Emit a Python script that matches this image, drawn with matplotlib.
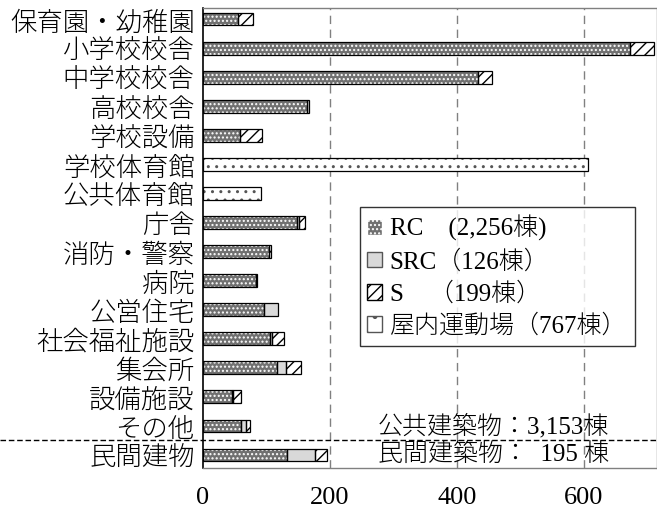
import matplotlib
matplotlib.use("Agg")
import matplotlib.pyplot as plt
import matplotlib.transforms as mtransforms
from matplotlib.lines import Line2D
from matplotlib.patches import Patch
import numpy as np

plt.rcParams['font.family'] = ['Liberation Serif', 'Noto Sans CJK JP']
plt.rcParams['hatch.linewidth'] = 1.0

categories = ['保育園・幼稚園', '小学校校舎', '中学校校舎', '高校校舎', '学校設備',
              '学校体育館', '公共体育館', '庁舎', '消防・警察', '病院', '公営住宅',
              '社会福祉施設', '集会所', '設備施設', 'その他', '民間建物']
rc     = [55, 672, 433, 164, 59,   0,  0, 148, 104, 84, 96, 106, 117, 46, 60, 132]
src    = [ 0,   0,   0,   3,  0,   0,  0,   3,   0,  1, 22,   3,  13,  1,  8,  45]
steel  = [23,  38,  22,   0, 34,   0,  0,   9,   3,  0,  0,  19,  25, 13,  6,  18]
indoor = [ 0,   0,   0,   0,  0, 607, 91,   0,   0,  0,  0,   0,   0,  0,  0,   0]

legend_labels = ['RC\u3000(2,256棟)', 'SRC（126棟）', 'S\u3000（199棟）', '屋内運動場（767棟）']
public_total = '公共建築物：3,153棟'
private_total = '民間建築物：  195 棟'
xticks = [0, 200, 400, 600]

fig = plt.figure(figsize=(6.57, 5.13), dpi=100)
ax = fig.add_axes([0.309, 0.088, 0.691, 0.896])

y = np.arange(len(categories))
h = 0.43
rc = np.array(rc); src = np.array(src); steel = np.array(steel); indoor = np.array(indoor)

# filled segments (hatch colour follows edgecolor)
ax.barh(y, rc, h, color='#707070', edgecolor='white', hatch='....', linewidth=0)
ax.barh(y, src, h, left=rc, color='#d9d9d9', edgecolor='#d9d9d9', linewidth=0)
ax.barh(y, steel, h, left=rc + src, color='white', edgecolor='black', hatch='///', linewidth=0)
ax.barh(y, indoor, h, color='white', edgecolor='#555555', hatch='..', linewidth=0)

# outlines
for vals, left in [(rc, 0), (src, rc), (steel, rc + src), (indoor, 0)]:
    mask = vals > 0
    ax.barh(y[mask], vals[mask], h, left=(left if np.isscalar(left) else left[mask]),
            fill=False, edgecolor='black', linewidth=0.9)

ax.set_xlim(0, 715)
ax.set_ylim(15.45, -0.38)
ax.set_xticks(xticks)
ax.set_xticklabels([str(t) for t in xticks], fontsize=19)
ax.set_yticks(y)
ax.set_yticklabels(categories, fontsize=19, family=['Noto Sans CJK JP'], fontweight='light')
ax.tick_params(axis='x', length=0, pad=14)
ax.tick_params(axis='y', length=0, pad=6)
for t in xticks[1:]:
    ax.axvline(t, color='#808080', linestyle=(0, (6, 4)), linewidth=1, zorder=0)
ax.spines['left'].set_color('black')
ax.spines['left'].set_linewidth(1.2)
for s in ['top', 'bottom', 'right']:
    ax.spines[s].set_color('#808080')
    ax.spines[s].set_linewidth(1)

# separator between public and private buildings
trans = mtransforms.blended_transform_factory(fig.transFigure, ax.transData)
fig.add_artist(Line2D([0, 1], [14.5, 14.5], transform=trans, color='black',
                      linestyle=(0, (4, 2)), linewidth=1))

ax.text(275, 14, public_total, fontsize=18, va='center', ha='left', fontweight='light')
ax.text(275, 15, private_total, fontsize=18, va='center', ha='left', fontweight='light')

handles = [Patch(facecolor='#707070', edgecolor='white', hatch='....'),
           Patch(facecolor='#d9d9d9', edgecolor='#555555'),
           Patch(facecolor='white', edgecolor='black', hatch='///'),
           Patch(facecolor='white', edgecolor='#555555', hatch='.')]
leg = ax.legend(handles, legend_labels, loc='upper left', bbox_to_anchor=(0.345, 0.567),
                prop={'size': 18, 'weight': 'light'}, frameon=True, fancybox=False,
                handlelength=0.6, handleheight=0.6, handletextpad=0.3, labelspacing=0.35,
                borderpad=0.3, borderaxespad=0)
leg.get_frame().set_edgecolor('black')
leg.get_frame().set_linewidth(1)

fig.savefig('out.png', dpi=100)
